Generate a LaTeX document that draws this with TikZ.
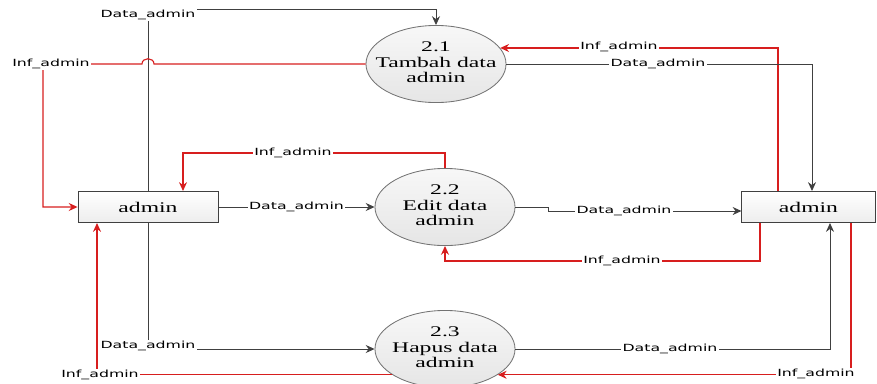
\documentclass[tikz,border=0pt]{standalone}
\usepackage{fontspec}
\setmainfont{Liberation Serif}
\newfontfamily\flowfont{DejaVu Sans}
\usetikzlibrary{shapes.geometric,arrows.meta}
\definecolor{infred}{RGB}{215,30,30}
\newcommand\wide[1]{\scalebox{1.6}[1]{#1}}
\newcommand\proctext[2]{\makebox[0pt]{\scalebox{1.6}[1]{\begin{tabular}{@{}c@{}}#1\\#2\\admin\end{tabular}}}}

\begin{document}
\begin{tikzpicture}[x=0.025cm,y=-0.025cm,line width=0.6pt,
 entity/.style={draw=black!75,minimum height=0.78cm,
 top color=white,bottom color=black!7,font=\fontsize{10.5}{10.7}\selectfont},
 proc/.style={ellipse,draw=black!55,minimum width=3.5cm,minimum height=1.8cm,
 top color=black!3,bottom color=black!10,font=\fontsize{10.5}{10.7}\selectfont},
 dflow/.style={color=black!75,-{Stealth[length=2.2mm,width=2mm]}},
 iflow/.style={color=infred,line width=0.8pt,-{Stealth[length=2.2mm,width=2mm]}},
 lbl/.style={fill=white,text=black,inner sep=1pt,font=\flowfont\fontsize{7}{8}\selectfont}]
  \useasboundingbox (0,0) rectangle (877,383);

  \node[entity,minimum width=3.5cm] (admL) at (148,207) {\wide{admin}};
  \node[entity,minimum width=3.33cm] (admR) at (808.5,207) {\wide{admin}};
  \foreach \n/\x/\y/\t in {1/436/64/Tambah data,2/445/207/Edit data,3/445/349/Hapus data}
    \node[proc] (p\n) at (\x,\y) {\proctext{2.\n}{\t}};

  % left entity
  \draw[dflow] (admL.north) -- (148,9) -| (p1.north)
    node[lbl] at (148,15) {\wide{Data\_admin}};
  \draw[iflow] (p1.west) -- (154,64) .. controls (154,57) and (142,57) .. (142,64)
    -| (admL.west -| 43,0) -- (admL.west)
    node[lbl] at (51,64) {\wide{Inf\_admin}};
  \draw[iflow] (p2.north) |- (183,153) -- (admL.north -| 183,0)
    node[lbl] at (293,153) {\wide{Inf\_admin}};
  \draw[dflow] (admL.east) -- (p2.west) node[lbl,midway] {\wide{Data\_admin}};
  \draw[dflow] (admL.south) |- (p3.west)
    node[lbl] at (148,346) {\wide{Data\_admin}};
  \draw[iflow] (p3.-154) -| (admL.south -| 97,0)
    node[lbl] at (100,375) {\wide{Inf\_admin}};

  % right entity
  \draw[iflow] (admR.north -| 778,0) |- (p1.14)
    node[lbl] at (619,47) {\wide{Inf\_admin}};
  \draw[dflow] (p1.east) -| (admR.north -| 812,0)
    node[lbl] at (658,64) {\wide{Data\_admin}};
  \draw[dflow] (p2.east) -- (548,207) -- (548,211) -- (admR.west |- 0,211)
    node[lbl] at (624,211) {\wide{Data\_admin}};
  \draw[iflow] (admR.south -| 760,0) -- (760,261) -| (p2.south)
    node[lbl] at (622,261) {\wide{Inf\_admin}};
  \draw[dflow] (p3.east) -| (admR.south -| 830,0)
    node[lbl] at (670,349) {\wide{Data\_admin}};
  \draw[iflow] (admR.south -| 851,0) |- (p3.-26)
    node[lbl] at (816,374) {\wide{Inf\_admin}};
\end{tikzpicture}
\end{document}
